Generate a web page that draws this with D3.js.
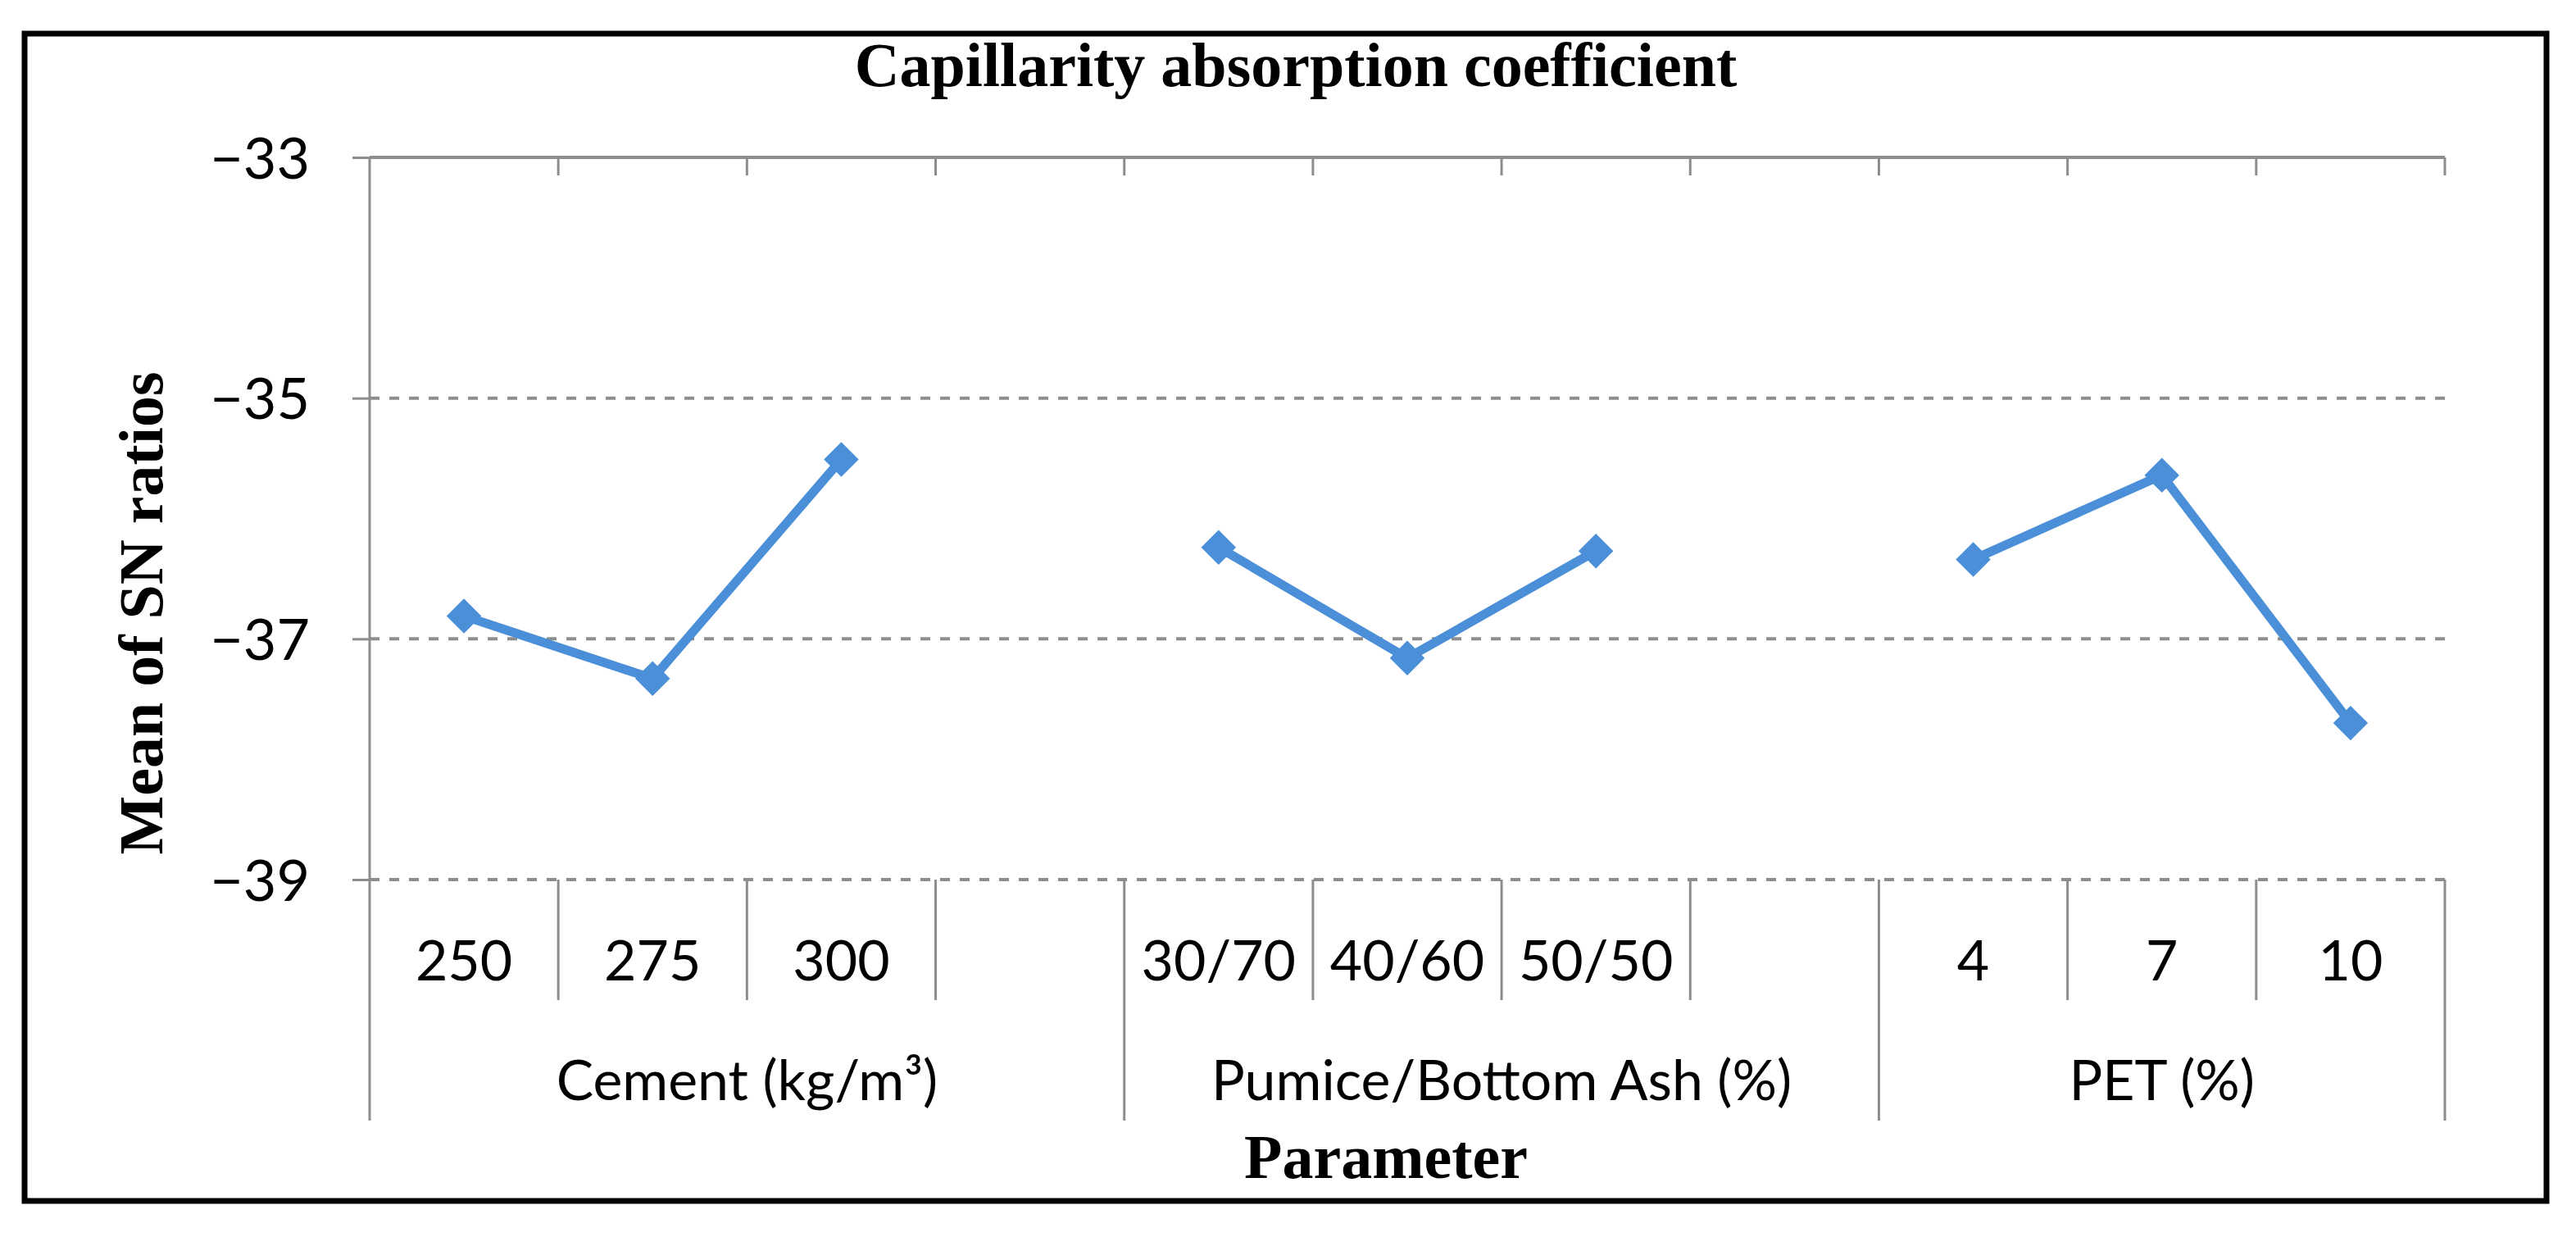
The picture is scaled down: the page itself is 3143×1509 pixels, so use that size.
<!DOCTYPE html>
<html>
<head>
<meta charset="utf-8">
<script src="https://cdn.jsdelivr.net/npm/d3@7"></script>
<style>
  html, body { margin: 0; padding: 0; background: #fff; }
</style>
</head>
<body>
<svg id="chart"></svg>
<script>
// data
var groups = ["Cement (kg/m\u00b3)", "Pumice/Bottom Ash (%)", "PET (%)"];
var levels = [["250", "275", "300"], ["30/70", "40/60", "50/50"], ["4", "7", "10"]];
var snMeans = [[-36.81, -37.33, -35.51], [-36.24, -37.16, -36.27], [-36.34, -35.64, -37.70]];
var yTicks = [-33, -35, -37, -39];

var W = 3143, H = 1509;
// note: "top" is taken by window.top, so plot edges get their own names
var plotL = 451, plotR = 2983, plotT = 192, plotB = 1073;
var innerBottom = 1220, groupBottom = 1367;
var grey = "#8d8d8d", blue = "#4a8fd8";
var sansFont = "Lato, 'Open Sans', sans-serif";
var serifFont = "'Liberation Serif', 'DejaVu Serif', serif";

// slots: each group's levels, then one empty slot between groups (as in the sheet)
var slots = [];
groups.forEach(function (g, gi) {
  levels[gi].forEach(function (lv, li) {
    slots.push({ key: gi + "-" + li, label: lv, group: gi, value: snMeans[gi][li] });
  });
  if (gi < groups.length - 1) slots.push({ key: gi + "-blank", label: "", group: gi, value: null });
});

var svg = d3.select("#chart").attr("width", W).attr("height", H);

var x = d3.scaleBand().domain(slots.map(function (d) { return d.key; })).range([plotL, plotR]).padding(0);
var y = d3.scaleLinear().domain([-39, -33]).range([plotB, plotT]);

// border
svg.append("rect").attr("x", 30).attr("y", 41).attr("width", 3077).attr("height", 1424)
  .attr("fill", "none").attr("stroke", "#000").attr("stroke-width", 7);

// title
svg.append("text").attr("x", 1581).attr("y", 105).attr("text-anchor", "middle")
  .attr("font-family", serifFont).attr("font-weight", "bold").attr("font-size", 76)
  .text("Capillarity absorption coefficient");

// dashed gridlines
svg.append("g").selectAll("line").data(yTicks.filter(function (t) { return t !== -33; })).join("line")
  .attr("x1", plotL).attr("x2", plotR)
  .attr("y1", function (d) { return y(d); }).attr("y2", function (d) { return y(d); })
  .attr("stroke", grey).attr("stroke-width", 4).attr("stroke-dasharray", "12,12");

// y axis
var yAxis = svg.append("g").attr("transform", "translate(" + plotL + ",0)")
  .call(d3.axisLeft(y).tickValues(yTicks).tickSize(21).tickPadding(52)
    .tickFormat(function (d) { return "\u2212" + Math.abs(d); }));
yAxis.select(".domain").remove();
yAxis.selectAll(".tick line").attr("stroke", grey).attr("stroke-width", 3);
yAxis.selectAll(".tick text").attr("font-family", sansFont).attr("font-size", 70)
  .attr("fill", "#000").attr("dy", "0.36em");
svg.append("line").attr("x1", plotL).attr("x2", plotL).attr("y1", plotT).attr("y2", groupBottom)
  .attr("stroke", grey).attr("stroke-width", 3);

// horizontal axis line at the top, ticks pointing down at category boundaries
var bounds = slots.map(function (d) { return x(d.key) + x.bandwidth(); });
svg.append("line").attr("x1", plotL).attr("x2", plotR).attr("y1", plotT).attr("y2", plotT)
  .attr("stroke", grey).attr("stroke-width", 4);
svg.append("g").selectAll("line").data(bounds).join("line")
  .attr("x1", function (d) { return d; }).attr("x2", function (d) { return d; })
  .attr("y1", plotT).attr("y2", plotT + 22)
  .attr("stroke", grey).attr("stroke-width", 3);

// category label separators below the plot
var groupEnds = [];
slots.forEach(function (d, i) {
  var next = slots[i + 1];
  if (!next || next.group !== d.group) groupEnds.push(i);
});
svg.append("g").selectAll("line").data(slots).join("line")
  .attr("x1", function (d) { return x(d.key) + x.bandwidth(); })
  .attr("x2", function (d) { return x(d.key) + x.bandwidth(); })
  .attr("y1", plotB)
  .attr("y2", function (d, i) { return groupEnds.indexOf(i) >= 0 ? groupBottom : innerBottom; })
  .attr("stroke", grey).attr("stroke-width", 3);

// level labels
svg.append("g").selectAll("text").data(slots.filter(function (d) { return d.label; })).join("text")
  .attr("x", function (d) { return x(d.key) + x.bandwidth() / 2; })
  .attr("y", 1196).attr("text-anchor", "middle")
  .attr("font-family", sansFont).attr("font-size", 68).attr("fill", "#000")
  .text(function (d) { return d.label; });

// group labels
svg.append("g").selectAll("text").data(groups).join("text")
  .attr("x", function (g, gi) {
    var s = slots.filter(function (d) { return d.group === gi; });
    return (x(s[0].key) + x(s[s.length - 1].key) + x.bandwidth()) / 2;
  })
  .attr("y", 1342).attr("text-anchor", "middle")
  .attr("font-family", sansFont).attr("font-size", 68).attr("fill", "#000")
  .text(function (g) { return g; });

// axis titles
svg.append("text").attr("x", 1691).attr("y", 1437).attr("text-anchor", "middle")
  .attr("font-family", serifFont).attr("font-weight", "bold").attr("font-size", 76)
  .text("Parameter");
svg.append("text").attr("transform", "translate(198,748) rotate(-90)").attr("text-anchor", "middle")
  .attr("font-family", serifFont).attr("font-weight", "bold").attr("font-size", 76)
  .text("Mean of SN ratios");

// one line per parameter
var line = d3.line()
  .x(function (d) { return x(d.key) + x.bandwidth() / 2; })
  .y(function (d) { return y(d.value); });
groups.forEach(function (g, gi) {
  var pts = slots.filter(function (d) { return d.group === gi && d.value !== null; });
  svg.append("path").datum(pts).attr("d", line)
    .attr("fill", "none").attr("stroke", blue).attr("stroke-width", 11).attr("stroke-linejoin", "round");
});

// diamond markers
svg.append("g").selectAll("path").data(slots.filter(function (d) { return d.value !== null; })).join("path")
  .attr("d", d3.symbol().type(d3.symbolDiamond2).size(1150))
  .attr("transform", function (d) {
    return "translate(" + (x(d.key) + x.bandwidth() / 2) + "," + y(d.value) + ")";
  })
  .attr("fill", blue);
</script>
</body>
</html>
